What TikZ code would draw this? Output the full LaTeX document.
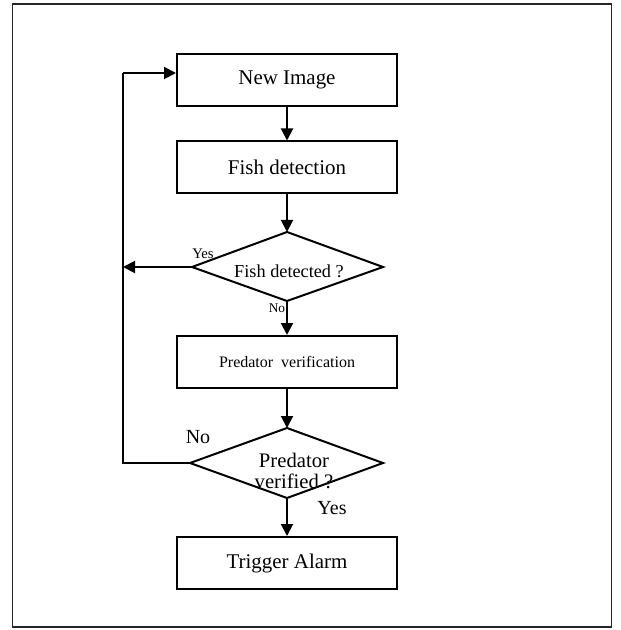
\documentclass[tikz,border=0pt]{standalone}
\usepackage{fontspec}
\setmainfont{Liberation Serif}
\usetikzlibrary{arrows.meta,shapes.geometric}
\begin{document}
\begin{tikzpicture}[x=0.75pt,y=-0.75pt,
  box/.style={draw,line width=1.5pt,minimum width=165pt,minimum height=39pt,inner sep=0pt,font=\fontsize{15.7}{17}\selectfont},
  arr/.style={line width=1.5pt,-{Triangle[length=9pt,width=9pt]}},
  ln/.style={line width=1.5pt},
  lbl/.style={inner sep=0pt}]
\useasboundingbox (0,0) rectangle (620,630);
\draw[line width=1.3pt,draw=black!85] (12.5,4) rectangle (611.5,627);
\node[box] (img) at (287,80) {New Image};
\node[box] (fish) at (287,167.5) {Fish detection};
\coordinate (d1t) at (287,232);
\coordinate (d1l) at (192,267);
\coordinate (d1r) at (383,267);
\coordinate (d1b) at (287,301);
\draw[ln] (d1t) -- (d1r) -- (d1b) -- (d1l) -- cycle;
\node[lbl,font=\fontsize{13.7}{15}\selectfont] (t1) at (289,271) {Fish detected ?};
\node[box,font=\fontsize{12}{14}\selectfont] (pred) at (287,362) {Predator\ \ verification};
\coordinate (d2t) at (287,428);
\coordinate (d2l) at (190,463);
\coordinate (d2r) at (383,463);
\coordinate (d2b) at (287,498);
\draw[ln] (d2t) -- (d2r) -- (d2b) -- (d2l) -- cycle;
\node[lbl,font=\fontsize{15.5}{17}\selectfont,align=center] (t2) at (294,471) {Predator\\[-1pt]verified ?};
\node[box] (alarm) at (287,563) {Trigger Alarm};
\coordinate (c1) at (123,267);
\coordinate (c2) at (123,463);
\coordinate (c3) at (123,73);
\coordinate (c4) at (img.west |- c3);
\draw[arr] (img) -- (fish);
\draw[arr] (fish) -- (d1t);
\draw[arr] (d1b) -- (pred);
\draw[arr] (pred) -- (d2t);
\draw[arr] (d2b) -- (alarm);
\draw[arr] (d1l) -- (c1);
\draw[ln] (d2l) -- (c2) -- (c3);
\draw[arr] (c3) -- (c4);
\node[lbl,font=\fontsize{11}{12}\selectfont] (y1) at (203,254) {Yes};
\node[lbl,font=\fontsize{10}{12}\selectfont] (n1) at (277,308) {No};
\node[lbl,font=\fontsize{15}{17}\selectfont] (n2) at (198,437) {No};
\node[lbl,font=\fontsize{15}{17}\selectfont] (y2) at (332,508) {Yes};
\end{tikzpicture}
\end{document}
